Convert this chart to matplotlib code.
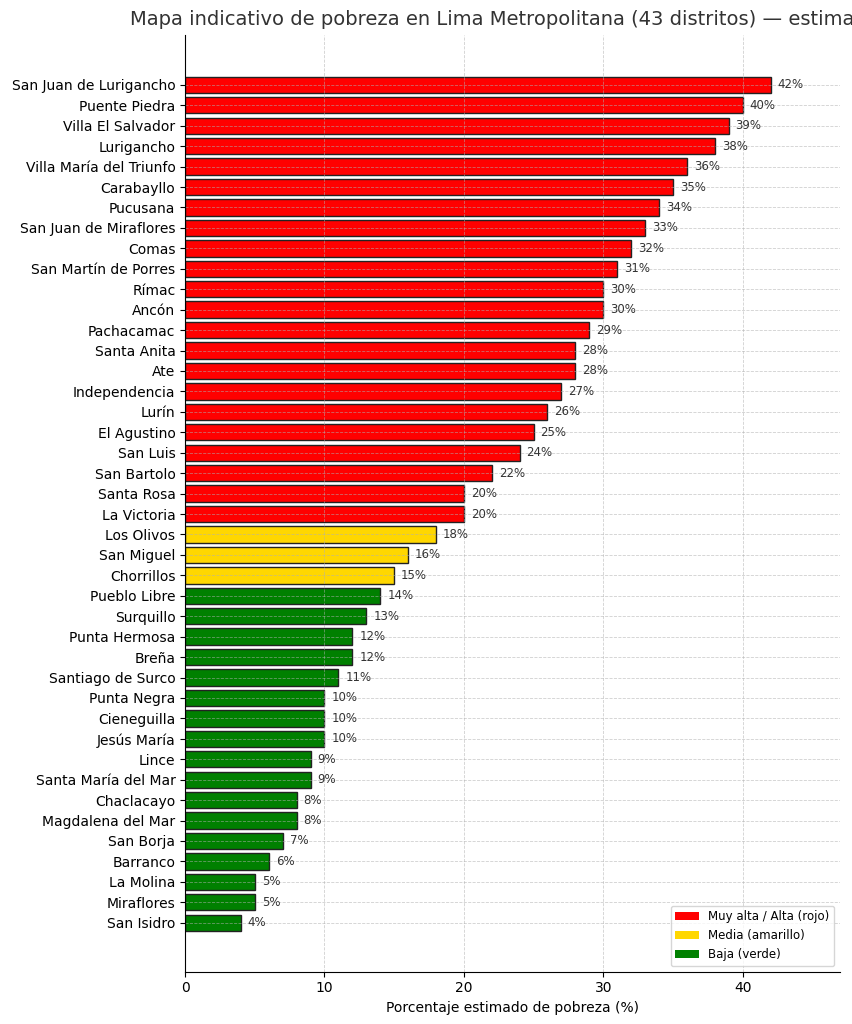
import matplotlib
matplotlib.use("Agg")
import matplotlib.pyplot as plt
from matplotlib.patches import Patch

districts = [
    "San Juan de Lurigancho", "Puente Piedra", "Villa El Salvador", "Lurigancho",
    "Villa María del Triunfo", "Carabayllo", "Pucusana", "San Juan de Miraflores",
    "Comas", "San Martín de Porres", "Rímac", "Ancón", "Pachacamac", "Santa Anita",
    "Ate", "Independencia", "Lurín", "El Agustino", "San Luis", "San Bartolo",
    "Santa Rosa", "La Victoria", "Los Olivos", "San Miguel", "Chorrillos",
    "Pueblo Libre", "Surquillo", "Punta Hermosa", "Breña", "Santiago de Surco",
    "Punta Negra", "Cieneguilla", "Jesús María", "Lince", "Santa María del Mar",
    "Chaclacayo", "Magdalena del Mar", "San Borja", "Barranco", "La Molina",
    "Miraflores", "San Isidro",
]
poverty = [42, 40, 39, 38, 36, 35, 34, 33, 32, 31, 30, 30, 29, 28, 28, 27, 26,
           25, 24, 22, 20, 20, 18, 16, 15, 14, 13, 12, 12, 11, 10, 10, 10, 9, 9,
           8, 8, 7, 6, 5, 5, 4]

RED, YELLOW, GREEN = "#ff0000", "#ffd700", "#008000"


def level_color(v):
    if v >= 20:
        return RED
    if v >= 15:
        return YELLOW
    return GREEN


colors = [level_color(v) for v in poverty]

fig = plt.figure(figsize=(8.53, 10.24), dpi=100)
ax = fig.add_axes([0.217, 0.051, 0.768, 0.915])

y = list(range(len(districts)))
ax.barh(y, poverty, height=0.8, color=colors, edgecolor="#222222", linewidth=1.0)
for yi, v in zip(y, poverty):
    ax.text(v + 0.5, yi, f"{v}%", va="center", ha="left", fontsize=8.5, color="#333333")

ax.set_yticks(y)
ax.set_yticklabels(districts, fontsize=10)
ax.set_ylim(43.4, -2.45)
ax.set_xlim(0, 47)
ax.set_xticks([0, 10, 20, 30, 40])
ax.tick_params(axis="x", labelsize=10)
ax.set_xlabel("Porcentaje estimado de pobreza (%)", fontsize=10)
ax.grid(True, linestyle="--", linewidth=0.6, color="#b0b0b0", alpha=0.6)
for s in ["top", "right"]:
    ax.spines[s].set_visible(False)

# title is wider than the figure in the reference, so it runs off the right edge
ax.set_title("Mapa indicativo de pobreza en Lima Metropolitana (43 distritos) — estimación",
             fontsize=14, pad=7, color="#333333")

handles = [Patch(facecolor=RED, label="Muy alta / Alta (rojo)"),
           Patch(facecolor=YELLOW, label="Media (amarillo)"),
           Patch(facecolor=GREEN, label="Baja (verde)")]
ax.legend(handles=handles, loc="lower right", fontsize=8.5)

fig.savefig("out.png", dpi=100)
